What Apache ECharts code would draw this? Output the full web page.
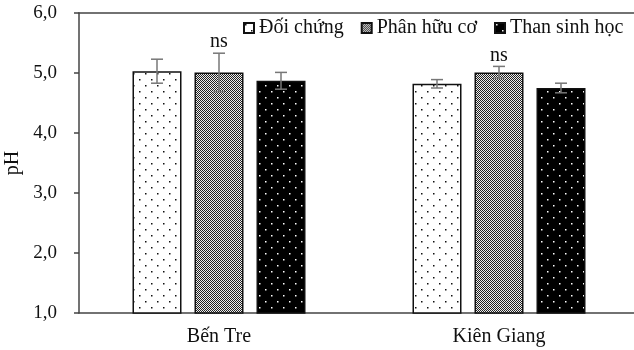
<!DOCTYPE html>
<html><head><meta charset="utf-8">
<script src="https://cdn.jsdelivr.net/npm/echarts@6/dist/echarts.min.js"></script>
<style>html,body{margin:0;padding:0;background:#fff}#c{width:634px;height:350px}</style>
</head><body><div id="c"></div>
<script>
const categories = ['Bến Tre', 'Kiên Giang'];
const seriesNames = ['Đối chứng', 'Phân hữu cơ', 'Than sinh học'];
const doiChung = [5.03, 4.82];
const phanHuuCo = [5.01, 5.01];
const thanSinhHoc = [4.87, 4.75];
const errDoiChung = [0.20, 0.07];
const errPhanHuuCo = [0.32, 0.10];
const errThanSinhHoc = [0.14, 0.08];
const significance = ['ns', 'ns'];
const yMin = 1, yMax = 6, yStep = 1;

function makePattern(kind) {
  const c = document.createElement('canvas');
  const ctx = c.getContext('2d');
  if (kind === 0) {
    c.width = 12; c.height = 12;
    ctx.fillStyle = '#fff'; ctx.fillRect(0, 0, 12, 12);
    ctx.fillStyle = '#111';
    ctx.fillRect(1, 1, 1.5, 1.5); ctx.fillRect(7, 7, 1.5, 1.5);
  } else if (kind === 1) {
    c.width = 2; c.height = 2;
    ctx.fillStyle = '#eee'; ctx.fillRect(0, 0, 2, 2);
    ctx.fillStyle = '#222';
    ctx.fillRect(0, 0, 1, 1); ctx.fillRect(1, 1, 1, 1);
  } else {
    c.width = 12; c.height = 12;
    ctx.fillStyle = '#000'; ctx.fillRect(0, 0, 12, 12);
    ctx.fillStyle = '#fff';
    ctx.fillRect(1, 1, 1.5, 1.5); ctx.fillRect(7, 7, 1.5, 1.5);
  }
  return { image: c, repeat: 'repeat' };
}

const values = [doiChung, phanHuuCo, thanSinhHoc];
const errs = [errDoiChung, errPhanHuuCo, errThanSinhHoc];
const BAR_W = 49, GAP = 13;
const font = '"Liberation Serif", "Times New Roman", serif';

const series = [];
seriesNames.forEach((name, i) => {
  series.push({
    name, type: 'bar', data: values[i], barWidth: BAR_W, barGap: (GAP / BAR_W * 100) + '%',
    itemStyle: { color: makePattern(i), borderColor: '#111', borderWidth: 1.5 },
    animation: false
  });
});
seriesNames.forEach((name, i) => {
  series.push({
    type: 'custom', z: 10, animation: false, silent: true,
    data: categories.map((c, k) => [k, values[i][k], errs[i][k]]),
    renderItem: function (params, api) {
      const k = api.value(0), v = api.value(1), e = api.value(2);
      const off = (i - 1) * (BAR_W + GAP);
      const top = api.coord([k, v + e]);
      const bot = api.coord([k, v - e]);
      const x = top[0] + off;
      const st = { stroke: '#777', lineWidth: 1.5 };
      const children = [
        { type: 'line', shape: { x1: x, y1: top[1], x2: x, y2: bot[1] }, style: st },
        { type: 'line', shape: { x1: x - 6, y1: top[1], x2: x + 6, y2: top[1] }, style: st },
        { type: 'line', shape: { x1: x - 6, y1: bot[1], x2: x + 6, y2: bot[1] }, style: st }
      ];
      if (i === 1) {
        children.push({ type: 'text', style: { text: significance[k], x: x, y: top[1] - 1, align: 'center', verticalAlign: 'bottom', font: '20px ' + font, fill: '#111' } });
      }
      return { type: 'group', children };
    }
  });
});

const chart = echarts.init(document.getElementById('c'));
chart.setOption({
  animation: false,
  textStyle: { fontFamily: font },
  grid: { left: 79, top: 13, width: 560, height: 300, containLabel: false, outerBoundsMode: 'none' },
  legend: {
    data: seriesNames.map(n => ({ name: n })),
    left: 243, top: 18, padding: 0, width: 420, itemWidth: 10, itemHeight: 10, itemGap: 17,
    icon: 'rect',
    textStyle: { fontFamily: font, fontSize: 20, color: '#111' }
  },
  xAxis: [{
    type: 'category', data: categories,
    axisLine: { lineStyle: { color: '#444', width: 1.5 } },
    axisTick: { show: false },
    axisLabel: { fontFamily: font, fontSize: 20, color: '#111', margin: 14 }
  }, {
    type: 'category', position: 'top', data: categories,
    axisLine: { show: true, onZero: false, lineStyle: { color: '#444', width: 1.5 } },
    axisTick: { show: false }, axisLabel: { show: false }
  }],
  yAxis: {
    type: 'value', min: yMin, max: yMax, interval: yStep,
    name: 'pH', nameLocation: 'middle', nameGap: 50, nameRotate: 90,
    nameTextStyle: { fontFamily: font, fontSize: 20, color: '#111' },
    axisLine: { show: true, lineStyle: { color: '#444', width: 1.5 } },
    axisTick: { show: true, length: 5, lineStyle: { color: '#444', width: 1.5 } },
    splitLine: { show: false },
    axisLabel: { fontFamily: font, fontSize: 19, color: '#111', margin: 22, formatter: v => v.toFixed(1).replace('.', ',') }
  },
  series
});
</script></body></html>
